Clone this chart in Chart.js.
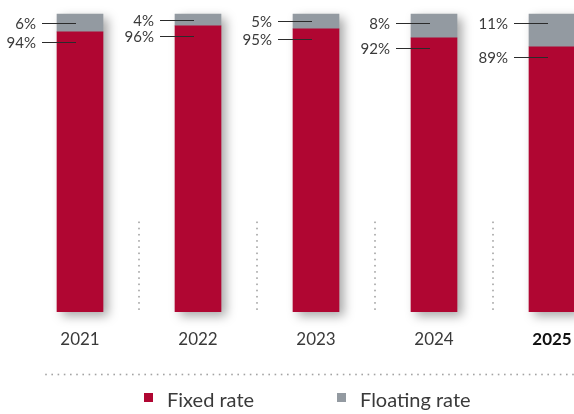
<!DOCTYPE html>
<html>
<head>
<meta charset="utf-8">
<script src="https://cdn.jsdelivr.net/npm/chart.js@4/dist/chart.umd.min.js"></script>
<style>
  html, body { margin: 0; padding: 0; background: #fff; }
  #chart { display: block; }
</style>
</head>
<body>
<canvas id="chart" width="574" height="414"></canvas>
<script>
// share of debt by interest type, per year
const years = ['2021', '2022', '2023', '2024', '2025'];
const fixedRate = [94, 96, 95, 92, 89];
const floatingRate = [6, 4, 5, 8, 11];
const seriesNames = ['Fixed rate', 'Floating rate'];

const RED = '#b00632';
const GREY = '#939aa1';
const TEXT = '#3a3a3a';
const FONT = 'Lato, "Open Sans", sans-serif';

// row of small square dots between two points
function dottedLine(ctx, x1, y1, x2, y2) {
    const step = 6.2;
    const len = Math.hypot(x2 - x1, y2 - y1);
    const dx = (x2 - x1) / len;
    const dy = (y2 - y1) / len;
    ctx.save();
    ctx.fillStyle = '#a3a3a3';
    for (let d = 0; d <= len; d += step) {
        ctx.fillRect(x1 + dx * d - 0.8, y1 + dy * d - 0.8, 1.6, 1.6);
    }
    ctx.restore();
}

// soft drop shadow behind each full stack
const barShadow = {
    id: 'barShadow',
    beforeDatasetsDraw(chart) {
        const ctx = chart.ctx;
        const fixedMeta = chart.getDatasetMeta(0);
        const floatMeta = chart.getDatasetMeta(1);
        ctx.save();
        ctx.shadowColor = 'rgba(0, 0, 0, 0.35)';
        ctx.shadowBlur = 10;
        ctx.shadowOffsetX = 5;
        ctx.shadowOffsetY = 4;
        ctx.fillStyle = '#fff';
        fixedMeta.data.forEach((bar, i) => {
            const top = floatMeta.data[i].y;
            ctx.fillRect(bar.x - bar.width / 2, top, bar.width, bar.base - top);
        });
        ctx.restore();
    }
};

// dotted separators between the years
const separators = {
    id: 'separators',
    beforeDatasetsDraw(chart) {
        const xs = chart.scales.x;
        const ys = chart.scales.y;
        for (let i = 0; i < years.length - 1; i++) {
            const x = Math.round((xs.getPixelForValue(i) + xs.getPixelForValue(i + 1)) / 2);
            dottedLine(chart.ctx, x, ys.getPixelForValue(30), x, ys.getPixelForValue(0));
        }
    }
};

// percentage labels with leader lines to the left of each bar
const valueLabels = {
    id: 'valueLabels',
    afterDatasetsDraw(chart) {
        const ctx = chart.ctx;
        const fixedMeta = chart.getDatasetMeta(0);
        const floatMeta = chart.getDatasetMeta(1);
        ctx.save();
        ctx.font = `15px ${FONT}`;
        ctx.fillStyle = TEXT;
        ctx.textAlign = 'right';
        ctx.textBaseline = 'middle';
        fixedMeta.data.forEach((bar, i) => {
            const left = bar.x - bar.width / 2;
            const fl = floatMeta.data[i];
            const rows = [
                [floatingRate[i] + '%', Math.min((fl.y + fl.base) / 2, fl.y + 9)],
                [fixedRate[i] + '%', bar.y + 10]
            ];
            rows.forEach(([txt, y]) => {
                y = Math.round(y) + 0.5;
                ctx.fillText(txt, left - 21, y + 1);
                ctx.strokeStyle = '#2b2b2b';
                ctx.lineWidth = 1.2;
                ctx.beginPath();
                ctx.moveTo(left - 15, y);
                ctx.lineTo(left + 19, y);
                ctx.stroke();
            });
        });
        ctx.restore();
    }
};

// dotted rule and legend along the bottom
const footer = {
    id: 'footer',
    afterDraw(chart) {
        const ctx = chart.ctx;
        dottedLine(ctx, 46, 374.5, chart.width, 374.5);
        const boxX = [144, 337];
        ctx.save();
        ctx.font = `20px ${FONT}`;
        ctx.textBaseline = 'alphabetic';
        chart.data.datasets.forEach((ds, i) => {
            ctx.fillStyle = ds.backgroundColor;
            ctx.fillRect(boxX[i], 393, 9, 9);
            ctx.fillStyle = TEXT;
            ctx.fillText(ds.label, boxX[i] + 23, 407);
        });
        ctx.restore();
    }
};

new Chart(document.getElementById('chart'), {
    type: 'bar',
    data: {
        labels: years,
        datasets: [
            { label: seriesNames[0], data: fixedRate, backgroundColor: RED },
            { label: seriesNames[1], data: floatingRate, backgroundColor: GREY }
        ]
    },
    options: {
        responsive: false,
        animation: false,
        layout: { padding: { left: 80, right: 22, top: 14, bottom: 46 } },
        datasets: { bar: { barThickness: 46, clip: false } },
        plugins: {
            legend: { display: false },
            tooltip: { enabled: false }
        },
        scales: {
            x: {
                stacked: true,
                offset: false,
                grid: { display: false, drawTicks: false },
                border: { display: false },
                // the outer year labels may hang past the plot edges
                afterFit: scale => {
                    scale.paddingLeft = 0;
                    scale.paddingRight = 0;
                },
                ticks: {
                    padding: 18,
                    color: c => c.index === years.length - 1 ? '#111' : TEXT,
                    font: c => ({
                        family: FONT,
                        size: 17,
                        weight: c.index === years.length - 1 ? 'bold' : 'normal'
                    })
                }
            },
            y: {
                stacked: true,
                display: false,
                min: 0,
                max: 100
            }
        }
    },
    plugins: [barShadow, separators, valueLabels, footer]
});
</script>
</body>
</html>
